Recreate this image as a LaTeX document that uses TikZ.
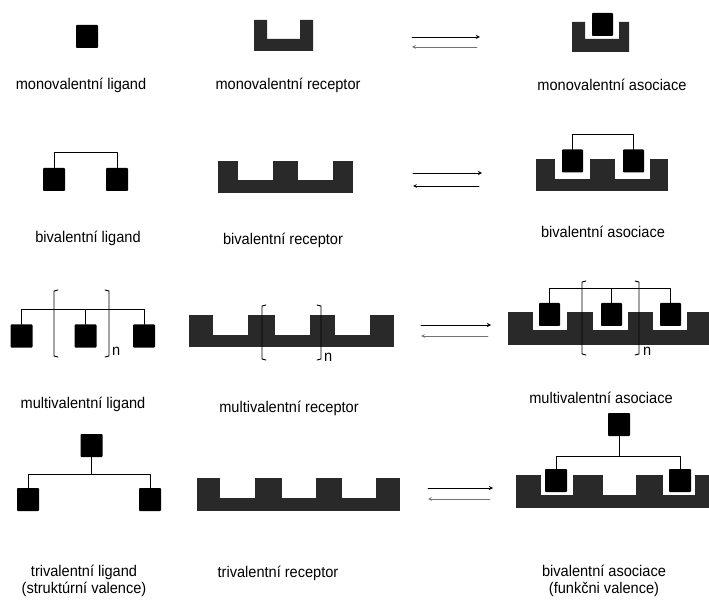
\documentclass[tikz,border=0pt]{standalone}
\usepackage{fontspec}
\setmainfont{Liberation Sans}[FakeStretch=0.94]
\begin{document}
\begin{tikzpicture}[x=1pt,y=-1pt,line join=round,line cap=round,>=stealth,
  font=\fontsize{15.5}{17}\selectfont,
  lig/.style={fill=black,minimum width=22pt,minimum height=23pt,inner sep=0pt,rounded corners=0.8pt},
  rec/.style={fill=black!84},
  tie/.style={line width=0.9pt},
  fwd/.style={->,line width=0.9pt},
  bwd/.style={->,line width=0.7pt,black!55},
  lab/.style={align=center,inner sep=0pt}]
\useasboundingbox (0,0) rectangle (709,601);
\def\lbr#1#2#3{\draw[tie] ({#1+4},#2) -- (#1,{#2+1}) -- (#1,{#3-1}) -- ({#1+4},#3);}
\def\rbr#1#2#3{\draw[tie] ({#1-4},#2) -- (#1,{#2+1}) -- (#1,{#3-1}) -- ({#1-4},#3);}
% equilibrium arrows
\foreach \i/\xa/\xb/\ya/\yb/\c in {1/412/480/37/47/black!55, 2/413/482/173/186/black,
    3/421/491/325/336/black!55, 4/428/493/488/499/black!55} {
  \coordinate (f\i a) at (\xa,\ya);
  \coordinate (f\i b) at (\xb,\ya);
  \coordinate (g\i a) at ({\xb-3},\yb);
  \coordinate (g\i b) at (\xa,\yb);
  \draw[fwd] (f\i a) -- (f\i b);
  \draw[bwd,draw=\c] (g\i a) -- (g\i b);
}
% monovalent
\node[lig] (m1) at (87,36.5) {};
\fill[rec] (254,39) rectangle (313,51) (254,20) rectangle (267,39) (300,20) rectangle (313,39);
\fill[rec] (572,39) rectangle (629,52) (572,22) rectangle (585,39) (619,22) rectangle (629,39);
\node[lig,minimum width=21pt] (m2) at (602.5,24.5) {};
\node[lab] (ml) at (81,85) {monovalentní ligand};
\node[lab] (mr) at (288,85) {monovalentní receptor};
\node[lab] (ma) at (612,85) {monovalentní asociace};
% bivalent
\node[lig] (b1) at (54,179.5) {};
\node[lig] (b2) at (117,179.5) {};
\draw[tie] (b1.north) -- ++(0,-15) -| (b2.north);
\fill[rec] (218,180) rectangle (353,193);
\foreach \a/\b in {218/238,273/298,333/353} \fill[rec] (\a,161) rectangle (\b,180);
\fill[rec] (536,179) rectangle (668,191);
\foreach \a/\b in {536/555,590/615,650/668} \fill[rec] (\a,159) rectangle (\b,179);
\node[lig,minimum width=21pt] (b3) at (572.5,161) {};
\node[lig,minimum width=21pt] (b4) at (633.5,161) {};
\draw[tie] (b3.north) -- ++(0,-15) -| (b4.north);
\node[lab] (bl) at (88,238) {bivalentní ligand};
\node[lab] (br) at (283,240) {bivalentní receptor};
\node[lab] (ba) at (603,232) {bivalentní asociace};
% multivalent
\node[lig] (t1) at (21.5,336) {};
\node[lig] (t2) at (85.5,336) {};
\node[lig] (t3) at (144,336) {};
\draw[tie] (t1.north) -- ++(0,-15) -| (t3.north);
\draw[tie] (t2.north) -- ++(0,-15);
\lbr{54}{290}{357}
\rbr{109}{290}{357}
\node[anchor=west,inner sep=0pt] (tn) at (112,351) {n};
\fill[rec] (189,335) rectangle (394,347);
\foreach \a/\b in {189/213,248/275,310/335,370/394} \fill[rec] (\a,315) rectangle (\b,335);
\lbr{262}{305}{360}
\rbr{321}{305}{360}
\node[anchor=west,inner sep=0pt] (rn) at (324,357) {n};
\fill[rec] (508,330) rectangle (709,345);
\foreach \a/\b in {508/533,567/593,628/653,687/709} \fill[rec] (\a,312) rectangle (\b,330);
\node[lig,minimum width=21pt] (t4) at (549.5,314.5) {};
\node[lig,minimum width=21pt] (t5) at (611.5,314.5) {};
\node[lig,minimum width=21pt] (t6) at (670.5,314.5) {};
\draw[tie] (t4.north) -- ++(0,-14) -| (t6.north);
\draw[tie] (t5.north) -- ++(0,-14);
\lbr{582}{281}{355}
\rbr{639}{281}{355}
\node[anchor=west,inner sep=0pt] (an) at (643,351) {n};
\node[lab] (tl) at (83,404) {multivalentní ligand};
\node[lab] (tr) at (289,408) {multivalentní receptor};
\node[lab] (ta) at (601,398) {multivalentní asociace};
% trivalent
\node[lig] (q0) at (91.5,445.5) {};
\node[lig] (q1) at (28,499.5) {};
\node[lig] (q2) at (150,499.5) {};
\draw[tie] (q0.south) -- ++(0,17) coordinate (qj);
\draw[tie] (q1.north) |- (qj) -| (q2.north);
\fill[rec] (197,498) rectangle (400,511);
\foreach \a/\b in {197/220,255/282,316/342,376/400} \fill[rec] (\a,478) rectangle (\b,498);
\fill[rec] (516,495) rectangle (709,508);
\foreach \a/\b in {516/541,573/603,636/663,695/709} \fill[rec] (\a,475) rectangle (\b,495);
\node[lig] (r0) at (619,424.5) {};
\node[lig] (r1) at (556,480.5) {};
\node[lig] (r2) at (680,480.5) {};
\draw[tie] (r0.south) -- ++(0,20) coordinate (rj);
\draw[tie] (r1.north) |- (rj) -| (r2.north);
\node[lab] (ql) at (84,581) {trivalentní ligand\\(struktúrní valence)};
\node[lab] (qr) at (278,573) {trivalentní receptor};
\node[lab] (qa) at (604,581) {bivalentní asociace\\(funkčni valence)};
\end{tikzpicture}
\end{document}
